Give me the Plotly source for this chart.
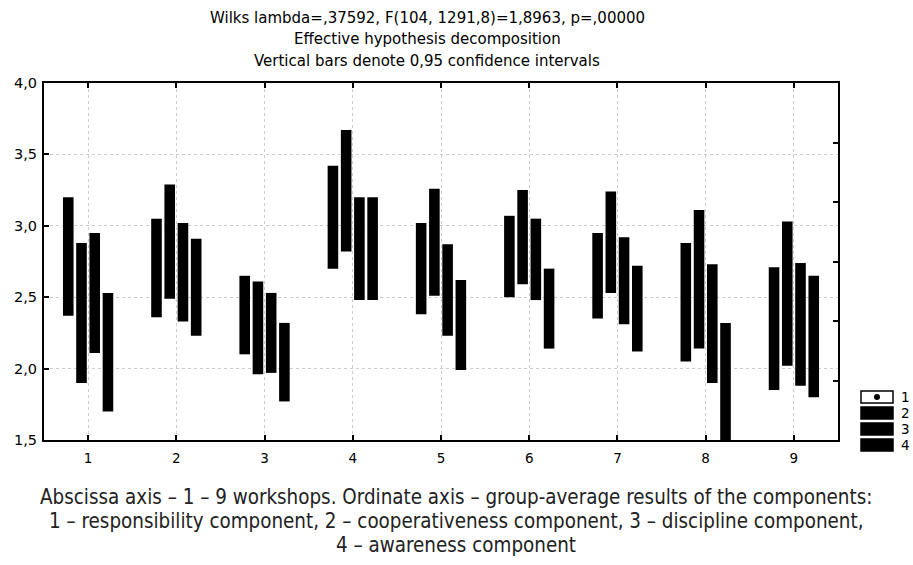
import plotly.graph_objects as go

workshops = [1, 2, 3, 4, 5, 6, 7, 8, 9]
component_names = ["1", "2", "3", "4"]

# 0.95 confidence interval bounds for each component (lower, upper)
lower_1 = [2.37, 2.36, 2.10, 2.70, 2.38, 2.50, 2.35, 2.05, 1.85]
upper_1 = [3.20, 3.05, 2.65, 3.42, 3.02, 3.07, 2.95, 2.88, 2.71]
lower_2 = [1.90, 2.49, 1.96, 2.82, 2.51, 2.59, 2.53, 2.14, 2.02]
upper_2 = [2.88, 3.29, 2.61, 3.67, 3.26, 3.25, 3.24, 3.11, 3.03]
lower_3 = [2.11, 2.33, 1.97, 2.48, 2.23, 2.48, 2.31, 1.90, 1.88]
upper_3 = [2.95, 3.02, 2.53, 3.20, 2.87, 3.05, 2.92, 2.73, 2.74]
lower_4 = [1.70, 2.23, 1.77, 2.48, 1.99, 2.14, 2.12, 1.40, 1.80]
upper_4 = [2.53, 2.91, 2.32, 3.20, 2.62, 2.70, 2.72, 2.32, 2.65]

lowers = [lower_1, lower_2, lower_3, lower_4]
uppers = [upper_1, upper_2, upper_3, upper_4]

y_ticks = [1.5, 2.0, 2.5, 3.0, 3.5, 4.0]

title_lines = [
    "Wilks lambda=,37592, F(104, 1291,8)=1,8963, p=,00000",
    "Effective hypothesis decomposition",
    "Vertical bars denote 0,95 confidence intervals",
]
caption_lines = [
    "Abscissa axis – 1 – 9 workshops. Ordinate axis – group-average results of the components:",
    "1 – responsibility component, 2 – cooperativeness component, 3 – discipline component,",
    "4 – awareness component",
]

W, H = 913, 565
L, R, T, B = 44, 838, 83, 440

def px(x):
    return (x - L) / (R - L)

def py(y):
    return (B - y) / (B - T)

fig = go.Figure()
bar_w = 0.12
centers = [-0.225, -0.075, 0.075, 0.225]
for i in range(4):
    fig.add_trace(go.Bar(
        x=workshops,
        y=[u - l for u, l in zip(uppers[i], lowers[i])],
        base=lowers[i],
        width=bar_w,
        offset=centers[i] - bar_w / 2,
        marker=dict(color="black", line=dict(width=0)),
        name=component_names[i],
        showlegend=False,
    ))
    means = [(u + l) / 2 for u, l in zip(uppers[i], lowers[i])]
    fig.add_trace(go.Scatter(
        x=[w + centers[i] for w in workshops], y=means, mode="markers",
        marker=dict(color="black", size=4), showlegend=False, hoverinfo="skip",
    ))

# invisible trace for right-side axis ticks
fig.add_trace(go.Scatter(x=[1], y=[0], yaxis="y2", mode="markers",
                         marker=dict(opacity=0), showlegend=False, hoverinfo="skip"))

font_main = "DejaVu Sans, Arial, sans-serif"

fig.update_layout(
    width=W, height=H,
    margin=dict(l=L, r=W - R, t=T, b=H - B),
    plot_bgcolor="white", paper_bgcolor="white",
    separators=",.",
    barmode="overlay",
    showlegend=False,
    font=dict(family=font_main, size=14, color="black"),
    xaxis=dict(
        range=[0.5, 9.5], tickvals=workshops,
        ticks="inside", ticklen=5, tickwidth=2, tickcolor="black",
        showline=True, linewidth=2, linecolor="black", mirror="ticks",
        showgrid=True, gridcolor="#cccccc", griddash="dot", gridwidth=1,
        zeroline=False, tickfont=dict(size=13.5), ticklabelstandoff=5,
    ),
    yaxis=dict(
        range=[1.5, 4.0], tickvals=y_ticks, tickformat=".1f",
        ticks="inside", ticklen=5, tickwidth=2, tickcolor="black",
        showline=True, linewidth=2, linecolor="black", mirror=True,
        showgrid=True, gridcolor="#cccccc", griddash="dot", gridwidth=1,
        zeroline=False, tickfont=dict(size=14.5), ticklabelstandoff=2,
    ),
    yaxis2=dict(
        overlaying="y", side="right", range=[0, 6], dtick=1,
        ticks="inside", ticklen=5, tickwidth=2, tickcolor="black",
        showticklabels=False, showgrid=False, zeroline=False, showline=False,
    ),
)

# titles
for k, line in enumerate(title_lines):
    fig.add_annotation(text=line, xref="paper", yref="paper",
                       x=px(427), y=py(18 + 21.5 * k), showarrow=False,
                       xanchor="center", yanchor="middle",
                       font=dict(family=font_main, size=15, color="black"))

# legend
legend_y = [397, 413, 429, 445]
for k in range(4):
    yc = legend_y[k]
    fig.add_shape(type="rect", xref="paper", yref="paper",
                  x0=px(861), x1=px(893), y0=py(yc - 6), y1=py(yc + 6),
                  fillcolor="white" if k == 0 else "black",
                  line=dict(color="black", width=1.5))
    if k == 0:
        fig.add_shape(type="circle", xref="paper", yref="paper",
                      x0=px(874), x1=px(880), y0=py(yc - 3), y1=py(yc + 3),
                      fillcolor="black", line=dict(color="black", width=0))
    fig.add_annotation(text=component_names[k], xref="paper", yref="paper",
                       x=px(899), y=py(yc), showarrow=False,
                       xanchor="left", yanchor="middle",
                       font=dict(family=font_main, size=13.5, color="black"))

# caption
for k, line in enumerate(caption_lines):
    fig.add_annotation(text=line, xref="paper", yref="paper",
                       x=px(456), y=py(497 + 24 * k), showarrow=False,
                       xanchor="center", yanchor="middle",
                       font=dict(family="Liberation Sans Narrow, DejaVu Sans Condensed, sans-serif",
                                 size=20.4, color="#222222"))

fig.write_html("out.html", config={"displayModeBar": False},
               post_script="document.body.style.margin='0px';")
